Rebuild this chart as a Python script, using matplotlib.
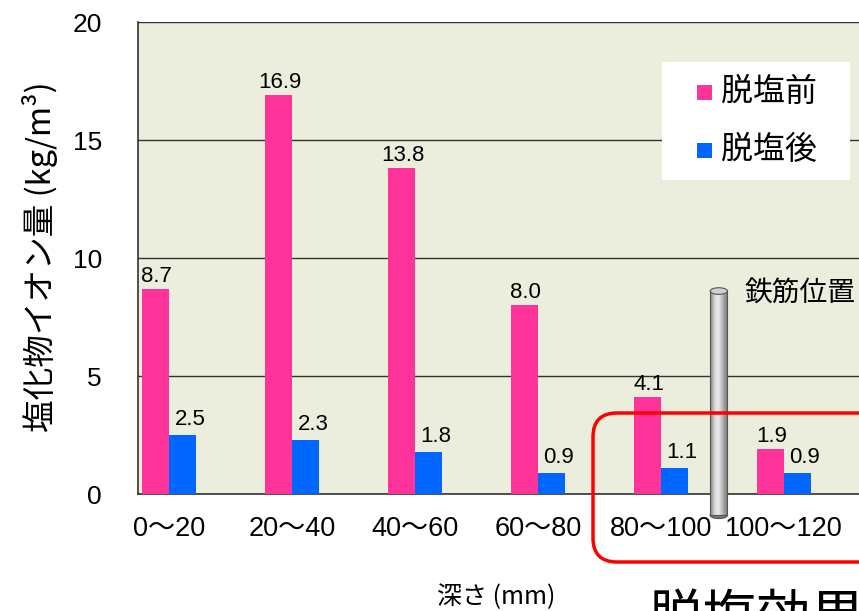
import matplotlib
matplotlib.use("Agg")
import matplotlib.pyplot as plt
import matplotlib.patches as mpatches
from matplotlib.transforms import IdentityTransform
import numpy as np

plt.rcParams['font.family'] = ['Liberation Sans', 'Noto Sans CJK JP', 'DejaVu Sans']

categories = ['0～20', '20～40', '40～60', '60～80', '80～100', '100～120']
before = [8.7, 16.9, 13.8, 8.0, 4.1, 1.9]
after = [2.5, 2.3, 1.8, 0.9, 1.1, 0.9]
series_names = ['脱塩前', '脱塩後']
yticks = [0, 5, 10, 15, 20]

PINK = '#FF3399'
BLUE = '#0066FF'
W, H = 859, 611
CJK = ['Noto Sans CJK JP', 'DejaVu Sans']

fig = plt.figure(figsize=(W / 100, H / 100), dpi=100)
ax = fig.add_axes([138 / W, 1 - 494 / H, 1 - 138 / W, (494 - 22) / H])
ax.set_facecolor('#EBEEDC')

x = np.arange(len(categories))
bw = 0.22
ax.bar(x - bw / 2, before, bw, color=PINK, zorder=3, label=series_names[0])
ax.bar(x + bw / 2, after, bw, color=BLUE, zorder=3, label=series_names[1])

for xi, v in zip(x, before):
    ax.text(xi - bw / 2 + 0.01, v + 0.08, f'{v:.1f}', ha='center', va='bottom',
            fontsize=16, zorder=5)
for xi, v in zip(x, after):
    ax.text(xi + bw / 2 + 0.06, v + 0.2, f'{v:.1f}', ha='center', va='bottom',
            fontsize=16, zorder=5)

ax.set_xlim(-0.252, (W - 169) / 123)
ax.set_ylim(0, 20)
ax.set_yticks(yticks)
ax.set_yticklabels([str(t) for t in yticks], fontsize=19)
ax.yaxis.grid(True, color='#333333', linewidth=1)
ax.set_axisbelow(True)
ax.set_xticks(x)
ax.set_xticklabels(categories, fontsize=19.5)
ax.tick_params(length=0)
ax.tick_params(axis='x', pad=16)
ax.tick_params(axis='y', pad=26)
for s in ['right', 'top']:
    ax.spines[s].set_visible(False)
for s in ['left', 'bottom']:
    ax.spines[s].set_color('#333333')
    ax.spines[s].set_linewidth(1.2)

# axis titles
fig.text(40 / W, 1 - 257 / H, '塩化物イオン量 (kg/m³)', fontsize=23.5, family=CJK,
         rotation=90, ha='center', va='center')
fig.text(496 / W, 1 - 597 / H, '深さ (mm)', fontsize=18, family=CJK,
         ha='center', va='center')

# legend box (drawn in pixel coordinates)
fig.add_artist(mpatches.Rectangle((662, H - 180), 188, 118, facecolor='white',
                                  edgecolor='none', transform=IdentityTransform(),
                                  zorder=6))
for name, col, yc in zip(series_names, [PINK, BLUE], [92, 150]):
    fig.add_artist(mpatches.Rectangle((697, H - yc - 7.5), 15, 15, facecolor=col,
                                      edgecolor='none', transform=IdentityTransform(),
                                      zorder=7))
    fig.text(721 / W, 1 - yc / H, name, fontsize=23, family=CJK, ha='left',
             va='center', zorder=7)

# rebar (cylinder)
rx0, rx1 = 4.40, 4.54
ry0, ry1 = -0.9, 8.6
grad = np.array([[0.55, 0.75, 0.88, 0.92, 0.85, 0.72, 0.6, 0.5]])
ax.imshow(grad, cmap='gray', vmin=0, vmax=1, aspect='auto',
          extent=(rx0, rx1, ry0, ry1), zorder=4, clip_on=False,
          interpolation='bicubic')
ax.add_patch(mpatches.Rectangle((rx0, ry0), rx1 - rx0, ry1 - ry0, fill=False,
                                edgecolor='#555555', linewidth=0.8, zorder=4,
                                clip_on=False))
ax.add_patch(mpatches.Ellipse(((rx0 + rx1) / 2, ry1), rx1 - rx0, 0.28,
                              facecolor='#cfcfcf', edgecolor='#555555',
                              linewidth=0.8, zorder=4, clip_on=False))
ax.add_patch(mpatches.Ellipse(((rx0 + rx1) / 2, ry0), rx1 - rx0, 0.28,
                              facecolor='#777777', edgecolor='#555555',
                              linewidth=0.8, zorder=3.9, clip_on=False))
ax.set_xlim(-0.252, (W - 169) / 123)
ax.set_ylim(0, 20)
fig.text(744 / W, 1 - 294 / H, '鉄筋位置', fontsize=20, family=CJK,
         va='center', ha='left')

# red rounded box
box = mpatches.FancyBboxPatch((593, H - 562), 300, 149,
                              boxstyle='round,pad=0,rounding_size=24',
                              transform=IdentityTransform(), fill=False,
                              edgecolor='#FF0000', linewidth=2.5, zorder=10)
fig.add_artist(box)
fig.text(648 / W, 1 - 591 / H, '脱塩効果', fontsize=39, family=CJK,
         va='top', ha='left')

fig.savefig('out.png', dpi=100)
